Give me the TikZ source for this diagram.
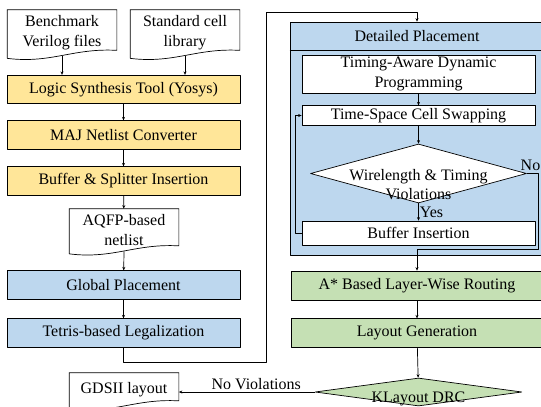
\documentclass[tikz,border=0pt]{standalone}
\usepackage{fontspec}
\setmainfont{Liberation Serif}
\usetikzlibrary{arrows.meta,shapes.geometric,calc}
\definecolor{synthyellow}{HTML}{FFE699}
\definecolor{placeblue}{HTML}{BDD7EE}
\definecolor{routegreen}{HTML}{C5E0B4}
% wavy bottom of a document node
\newcommand{\docoutline}[1]{%
  \draw ([yshift=-2.5pt]#1.south west) -- (#1.north west) -- (#1.north east)
    -- ([yshift=5.5pt]#1.south east)
    .. controls ([shift={(11pt,8pt)}]#1.south) and ([shift={(-11pt,-8pt)}]#1.south)
    .. ([yshift=-2.5pt]#1.south west);}

\begin{document}
\begin{tikzpicture}[x=1pt,y=-1pt,line join=round,line width=.7pt,
    >={Stealth[length=3.5pt,width=3pt]}]
  \tikzset{every node/.style={font=\fontsize{16}{19.5}\selectfont,inner sep=0pt,align=center},
    stage/.style={draw,rectangle,minimum width=233,minimum height=28.5},
    wide stage/.style={draw,rectangle,minimum width=252,minimum height=28.5},
    inner stage/.style={draw,rectangle,fill=white,minimum width=233},
    docnode/.style={rectangle,minimum width=109,minimum height=45.5},
    decision/.style={draw,diamond,inner sep=0pt}}
  \useasboundingbox (0,0) rectangle (541,407);

  % synthesis
  \node[docnode] (bench) at (62,32.75) {Benchmark\\Verilog files};
  \node[docnode] (stdcell) at (185,32.75) {Standard cell\\library};
  \docoutline{bench}
  \docoutline{stdcell}
  \node[stage,fill=synthyellow] (logic) at (123.5,89.5) {Logic Synthesis Tool (Yosys)};
  \node[stage,fill=synthyellow] (maj) at (123.5,135) {MAJ Netlist Converter};
  \node[stage,fill=synthyellow] (bufsplit) at (123.5,181) {Buffer \& Splitter Insertion};
  \node[docnode,minimum height=42] (aqfp) at (124,230) {AQFP-based\\netlist};
  \docoutline{aqfp}

  % placement
  \node[stage,fill=placeblue] (gp) at (123.5,285) {Global Placement};
  \node[stage,fill=placeblue] (tetris) at (123.5,333) {Tetris-based Legalization};

  \node[draw,fill=placeblue,minimum width=254,minimum height=233] (dp) at (417,138.5) {};
  \node (dptitle) at (417,36.5) {Detailed Placement};
  \draw ($(dp.north west)+(0,29)$) -- ($(dp.north east)+(0,29)$);
  \node[inner stage,minimum height=38] (tadp) at (418.5,74) {Timing-Aware Dynamic\\Programming};
  \node[inner stage,minimum height=19.5] (tscs) at (418.5,115.5) {Time-Space Cell Swapping};
  \node[decision,fill=white,minimum width=216,minimum height=59,
    label={[yshift=-11pt]center:Wirelength \& Timing\\Violations}] (viol) at (418.5,173.5) {};
  \node[inner stage,minimum height=24] (bufins) at (418.5,233) {Buffer Insertion};

  % routing
  \node[wide stage,fill=routegreen,minimum height=29] (astar) at (417,285.5) {A* Based Layer-Wise Routing};
  \node[wide stage,fill=routegreen] (laygen) at (417,333) {Layout Generation};
  \node[decision,fill=routegreen,minimum width=207,minimum height=28,
    label={[yshift=-7pt]center:KLayout DRC}] (drc) at (418.5,392) {};
  \node[docnode,minimum height=33] (gds) at (124,389.5) {GDSII layout};
  \docoutline{gds}

  \coordinate (turnA) at (266.5,362);
  \coordinate (turnB) at (266.5,12.5);
  \coordinate (nocorner) at (538.5,249.5);

  \draw[->] (bench.south) -- (bench.south |- logic.north);
  \draw[->] (stdcell.south) -- (stdcell.south |- logic.north);
  \draw[->] (logic) -- (maj);
  \draw[->] (maj) -- (bufsplit);
  \draw[->] (bufsplit) -- (aqfp);
  \draw[->] (aqfp.south) -- (gp);
  \draw[->] (gp) -- (tetris);
  \draw[->] (tetris.south) |- (turnA) -- (turnB) -| (dp.north);
  \draw[->] (tadp) -- (tscs);
  \draw[->] (tscs) -- (viol);
  \draw[->] (viol) -- node[right,xshift=1pt] {Yes} (bufins);
  \draw[->] (bufins.west) -- ++(-6.5,0) |- (tscs.west);
  \draw[->] (viol.east) node[above right,xshift=-6.5pt,yshift=2pt] {No} -| (nocorner) -| (astar.north);
  \draw[->] (astar) -- (laygen);
  \draw[->] (laygen) -- (drc);
  \draw[->] (drc.west) -- node[above,pos=.43,yshift=2pt] {No Violations} (drc.west -| gds.east);
\end{tikzpicture}
\end{document}
